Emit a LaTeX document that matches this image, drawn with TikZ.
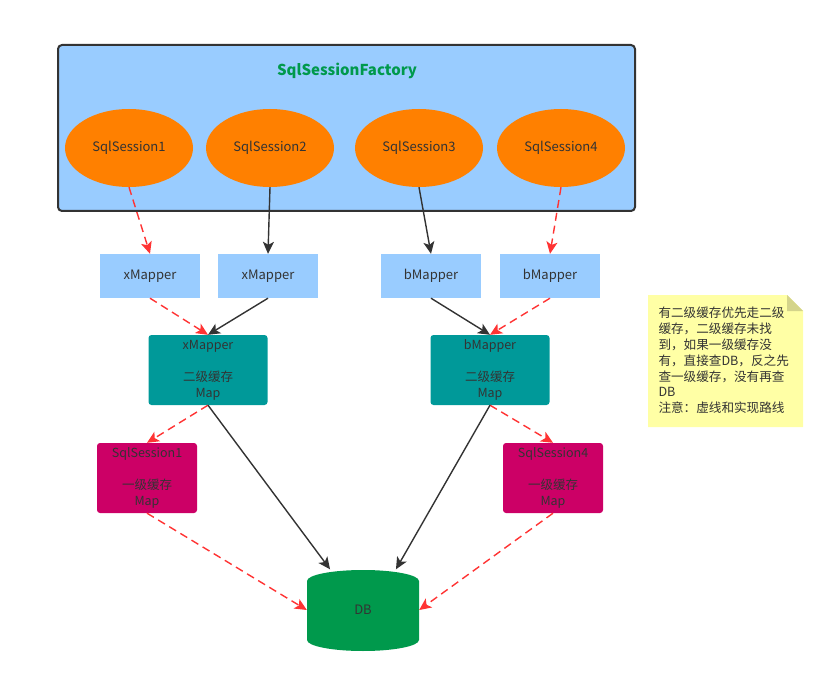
\documentclass[tikz,border=0pt]{standalone}
\usepackage{fontspec}
\setmainfont{Noto Sans CJK SC}
\usetikzlibrary{shapes.geometric,arrows.meta}

\definecolor{factoryblue}{HTML}{99CCFF}
\definecolor{sessionorange}{HTML}{FF8000}
\definecolor{cacheteal}{HTML}{009999}
\definecolor{localred}{HTML}{CC0066}
\definecolor{dbgreen}{HTML}{00994C}
\definecolor{linegray}{HTML}{333333}
\definecolor{flowred}{HTML}{FF3333}
\definecolor{notefill}{HTML}{FFFFA5}
\definecolor{notefold}{HTML}{D4D48A}

\begin{document}
\begin{tikzpicture}[x=1pt, y=-1pt]
\tikzstyle{session}=[ellipse, fill=sessionorange, minimum width=128pt, minimum height=78pt, text=linegray, font=\fontsize{13}{16}\selectfont]
\tikzstyle{mapper}=[rectangle, fill=factoryblue, minimum width=100pt, minimum height=44pt, text=linegray, font=\fontsize{13}{16}\selectfont]
\tikzstyle{cache}=[rectangle, rounded corners=3pt, fill=cacheteal, minimum width=119pt, minimum height=70pt, align=center, text=linegray, font=\fontsize{12.5}{16}\selectfont]
\tikzstyle{local}=[cache, fill=localred, minimum width=100pt]
\tikzstyle{blackflow}=[draw=linegray, line width=1.4pt, -{Stealth[length=12pt, width=11pt, inset=3pt]}]
\tikzstyle{redflow}=[draw=flowred, line width=1.4pt, dash pattern=on 8pt off 5pt, -{Stealth[length=12pt, width=11pt, inset=3pt]}]

\useasboundingbox (0,0) rectangle (836,674);

% SqlSessionFactory frame
\node (factory) at (346.5,128) [rectangle, draw=linegray, line width=2pt, rounded corners=4pt, fill=factoryblue, minimum width=577pt, minimum height=166pt]{};
\node (title) at (347,71) [text=dbgreen, font=\fontsize{15}{18}\selectfont\bfseries]{SqlSessionFactory};

\node (s1) at (129,148) [session]{SqlSession1};
\node (s2) at (270,148) [session]{SqlSession2};
\node (s3) at (419,148) [session]{SqlSession3};
\node (s4) at (561,148) [session]{SqlSession4};

\node (xmap1) at (150,276) [mapper]{xMapper};
\node (xmap2) at (268,276) [mapper]{xMapper};
\node (bmap1) at (431,276) [mapper]{bMapper};
\node (bmap2) at (550,276) [mapper]{bMapper};

\node (xcache) at (208,370) [cache]{xMapper\\\\二级缓存\\Map};
\node (bcache) at (490,370) [cache]{bMapper\\\\二级缓存\\Map};

\node (local1) at (147,478) [local]{SqlSession1\\\\一级缓存\\Map};
\node (local4) at (553,478) [local]{SqlSession4\\\\一级缓存\\Map};

% DB drum, drawn by hand round the node
\fill [dbgreen] (307,581) -- (307,640) arc (180:0:56 and 11) -- (419,581) arc (0:-180:56 and 11) -- cycle;
\node (db) at (363,610) [rectangle, minimum width=112pt, minimum height=81pt, text=linegray, font=\fontsize{13}{16}\selectfont]{DB};

% sessions to mappers
\draw [redflow] (s1.south) to (xmap1.north);
\draw [blackflow] (s2.south) to (xmap2.north);
\draw [blackflow] (s3.south) to (bmap1.north);
\draw [redflow] (s4.south) to (bmap2.north);

% mappers to second level cache
\draw [redflow] (xmap1.south) to (xcache.north);
\draw [blackflow] (xmap2.south) to (xcache.north);
\draw [blackflow] (bmap1.south) to (bcache.north);
\draw [redflow] (bmap2.south) to (bcache.north);

% second level cache to first level cache and DB
\draw [redflow] (xcache.south) to (local1.north);
\draw [blackflow] (xcache.south) to (db.129);
\draw [redflow] (bcache.south) to (local4.north);
\draw [blackflow] (bcache.south) to (db.51);

% first level cache to DB
\draw [redflow] (local1.south) to (db.west);
\draw [redflow] (local4.south) to (db.east);

% note
\fill [notefill] (648,295) -- (787,295) -- (803,311) -- (803,427) -- (648,427) -- cycle;
\fill [notefold] (787,295) -- (803,311) -- (787,311) -- cycle;
\node (note) at (655,360.5) [anchor=west, align=left, text=linegray, font=\fontsize{12.6}{15.8}\selectfont]{有二级缓存优先走二级\\缓存，二级缓存未找\\到，如果一级缓存没\\有，直接查DB，反之先\\查一级缓存，没有再查\\DB\\注意：虚线和实现路线};

\end{tikzpicture}
\end{document}
